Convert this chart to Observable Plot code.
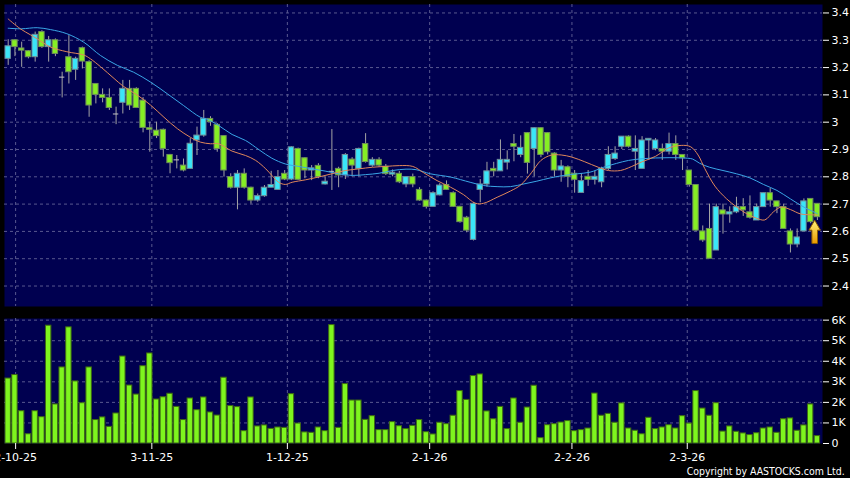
<!DOCTYPE html>
<html><head><meta charset="utf-8">
<script src="https://cdn.jsdelivr.net/npm/d3@7"></script>
<script src="https://cdn.jsdelivr.net/npm/@observablehq/plot@0.6"></script>
<style>
html,body{margin:0;padding:0;background:#000;}
#wrap{position:relative;width:850px;height:478px;background:#000;overflow:hidden;}
#price{position:absolute;left:0;top:0;}
#vol{position:absolute;left:0;top:310px;}
#copy{position:absolute;right:5px;top:465px;color:#fff;font:11px "DejaVu Sans Condensed","DejaVu Sans",sans-serif;line-height:13px;white-space:nowrap;transform-origin:right center;}
</style></head><body>
<svg width="0" height="0" style="position:absolute"><defs>
<linearGradient id="arrowGrad" x1="0" y1="0" x2="0" y2="1"><stop offset="0" stop-color="#fff27a"/><stop offset="1" stop-color="#eb9a00"/></linearGradient>
</defs></svg>
<div id="wrap"><div id="price"></div><div id="vol"></div><div id="copy">Copyright by AASTOCKS.com Ltd.</div></div>
<script>
// ---- axis ticks ----
const xTickPos = [1.1, 21.3, 41.4, 62.5, 83.6, 100.7];
const xTickLabels = ["2-10-25", "3-11-25", "1-12-25", "2-1-26", "2-2-26", "2-3-26"];
const priceTicks = [2.4, 2.5, 2.6, 2.7, 2.8, 2.9, 3.0, 3.1, 3.2, 3.3, 3.4];
const priceTickLabels = ["2.4", "2.5", "2.6", "2.7", "2.8", "2.9", "3", "3.1", "3.2", "3.3", "3.4"];
const volTicks = [0, 1, 2, 3, 4, 5, 6];
const volTickLabels = ["0", "1K", "2K", "3K", "4K", "5K", "6K"];

// ---- daily OHLC (121 sessions) ----
const opens = [3.232,3.300,3.270,3.260,3.238,3.330,3.275,3.300,3.165,3.238,3.192,3.271,3.220,3.140,3.100,3.089,3.030,3.071,3.122,3.122,
3.079,2.978,2.969,2.972,2.880,2.862,2.841,2.829,2.933,2.951,3.012,2.990,2.949,2.799,2.760,2.811,2.760,2.713,2.729,2.760,
2.752,2.811,2.790,2.902,2.868,2.823,2.840,2.772,2.820,2.829,2.805,2.863,2.829,2.920,2.841,2.862,2.837,2.808,2.811,2.772,
2.799,2.752,2.713,2.690,2.732,2.770,2.740,2.690,2.650,2.569,2.752,2.772,2.829,2.820,2.852,2.920,2.880,2.960,2.902,2.978,
2.960,2.885,2.823,2.835,2.811,2.741,2.800,2.789,2.780,2.829,2.865,2.910,2.947,2.892,2.829,2.933,2.902,2.902,2.892,2.920,
2.880,2.823,2.770,2.600,2.609,2.530,2.677,2.662,2.670,2.689,2.670,2.640,2.689,2.740,2.710,2.689,2.600,2.552,2.600,2.719,2.701];
const highs = [3.302,3.302,3.293,3.262,3.330,3.335,3.314,3.305,3.183,3.317,3.238,3.275,3.225,3.140,3.122,3.122,3.055,3.153,3.153,3.126,
3.090,3.000,3.000,2.975,2.882,2.878,2.865,2.940,2.982,3.043,3.020,2.995,2.950,2.811,2.823,2.829,2.762,2.737,2.768,2.820,
2.823,2.823,2.910,2.905,2.870,2.841,2.848,2.800,2.973,2.835,2.885,2.870,2.905,2.958,2.870,2.870,2.845,2.825,2.820,2.800,
2.810,2.760,2.715,2.745,2.775,2.785,2.745,2.692,2.655,2.705,2.790,2.853,2.853,2.935,2.895,2.955,2.950,2.962,2.980,2.980,
2.962,2.888,2.860,2.840,2.823,2.811,2.823,2.820,2.835,2.910,2.910,2.947,2.950,2.950,2.947,2.940,2.940,2.920,2.960,2.950,
2.880,2.823,2.770,2.620,2.700,2.700,2.700,2.690,2.725,2.720,2.730,2.700,2.740,2.757,2.710,2.700,2.609,2.609,2.719,2.719,2.701];
const lows = [3.208,3.240,3.201,3.232,3.220,3.270,3.220,3.240,3.089,3.140,3.153,3.195,3.018,3.067,3.071,3.043,2.991,3.030,3.043,3.050,
2.961,2.890,2.940,2.872,2.811,2.829,2.818,2.829,2.878,2.945,2.985,2.890,2.799,2.755,2.679,2.755,2.700,2.707,2.725,2.760,
2.752,2.786,2.786,2.787,2.793,2.786,2.793,2.770,2.750,2.760,2.790,2.800,2.800,2.850,2.835,2.835,2.805,2.800,2.775,2.760,
2.760,2.710,2.682,2.690,2.730,2.750,2.688,2.630,2.595,2.565,2.705,2.762,2.800,2.820,2.825,2.855,2.870,2.810,2.800,2.870,
2.880,2.799,2.780,2.760,2.740,2.741,2.765,2.770,2.760,2.823,2.860,2.900,2.905,2.823,2.829,2.860,2.895,2.860,2.880,2.860,
2.823,2.762,2.600,2.560,2.500,2.530,2.590,2.630,2.665,2.655,2.645,2.640,2.689,2.689,2.665,2.609,2.521,2.540,2.600,2.628,2.640];
const closes = [3.278,3.275,3.262,3.238,3.320,3.275,3.300,3.250,3.165,3.183,3.232,3.222,3.061,3.100,3.089,3.052,3.030,3.122,3.061,3.052,
2.979,2.972,2.949,2.902,2.850,2.862,2.823,2.921,2.951,3.012,3.000,2.902,2.823,2.760,2.811,2.760,2.713,2.729,2.760,2.770,
2.799,2.790,2.908,2.789,2.823,2.831,2.799,2.782,2.820,2.805,2.880,2.841,2.902,2.854,2.862,2.841,2.810,2.815,2.780,2.799,
2.772,2.713,2.690,2.740,2.768,2.752,2.690,2.634,2.603,2.701,2.772,2.820,2.820,2.862,2.862,2.910,2.906,2.851,2.978,2.880,
2.890,2.823,2.838,2.800,2.789,2.784,2.789,2.800,2.829,2.880,2.885,2.947,2.910,2.902,2.933,2.939,2.933,2.892,2.920,2.880,
2.868,2.770,2.603,2.567,2.500,2.689,2.662,2.670,2.689,2.677,2.650,2.689,2.740,2.713,2.689,2.609,2.552,2.578,2.710,2.634,2.652];
// ---- daily volume, thousands of shares ----
const volumes = [3.16,3.33,1.57,0.45,1.57,1.28,5.73,1.90,3.70,5.65,3.02,1.96,3.70,1.14,1.27,0.81,1.46,4.23,2.82,2.38,
3.76,4.38,2.14,2.25,2.42,1.78,1.14,2.19,1.62,2.24,1.51,1.36,3.20,1.82,1.77,0.60,2.24,0.83,0.88,0.71,
0.78,0.76,2.40,0.97,0.54,0.52,0.78,0.60,5.76,0.76,2.89,2.09,2.09,1.15,1.33,0.65,0.65,1.04,0.84,0.70,
0.86,1.14,0.55,0.44,1.01,0.94,1.35,2.55,2.12,3.28,3.36,1.56,1.18,1.78,0.70,2.19,1.01,1.75,2.81,0.26,
0.89,0.94,1.02,1.09,0.60,0.65,0.73,2.43,1.35,1.44,1.01,1.95,0.73,0.62,0.45,1.25,0.70,0.78,0.89,0.73,
1.33,0.97,2.55,1.70,1.35,1.96,0.58,0.83,0.57,0.49,0.41,0.50,0.73,0.78,0.52,1.18,1.22,0.62,0.88,1.90,0.36];

// ---- moving averages (session position, price) ----
const maLongPos = [0,2,4.3,6.3,8.7,11.2,13.7,16.2,18.6,21.1,23.6,26,28.5,29.5,31.2,33.2,35.2,37.2,39.1,41.1,43.1,45.1,47,49,51,53,55,57,59,60.5,
62.6,65.6,68.5,70.5,72.5,74.5,76.5,78.4,80.4,82.4,84.4,86.3,88.3,90.2,92,94,96,98,100,101.5,102.5,104,106,108,110,112,114,116,118,120];
const maLongVal = [3.344,3.342,3.346,3.339,3.324,3.293,3.244,3.208,3.183,3.147,3.104,3.061,3.018,3.011,2.988,2.955,2.933,2.899,2.868,2.847,2.838,2.829,2.821,2.811,2.805,2.808,2.813,2.823,2.828,2.826,
2.811,2.799,2.780,2.768,2.764,2.764,2.774,2.784,2.796,2.805,2.811,2.817,2.835,2.849,2.860,2.866,2.869,2.870,2.869,2.865,2.850,2.835,2.823,2.811,2.796,2.772,2.750,2.719,2.689,2.665];
const maShortPos = [0,1.8,3.3,4.3,6.3,8.7,11.2,12.2,13.7,15.7,17.1,19.1,21.1,23.1,25.1,27,28.5,30,31.2,33.2,35.2,36.7,38.2,39.1,40.1,41.1,42.1,44.1,46,48,50,52,54,56,58,60,
61.6,63.6,65.6,67.5,69.3,70.5,72.5,74.5,76,77.6,79,80.5,82,83.6,85.5,87.5,89,90.8,92,94,96,97.9,99.8,101.2,102.3,103.3,104.8,106.5,108,109.5,111,112.2,113.5,114.6,116,117.5,119,120];
const maShortVal = [3.378,3.342,3.320,3.305,3.275,3.258,3.246,3.232,3.203,3.160,3.131,3.100,3.063,3.018,2.976,2.945,2.927,2.921,2.921,2.894,2.878,2.860,2.829,2.805,2.780,2.772,2.780,2.789,2.799,2.811,2.823,2.829,2.835,2.838,2.841,2.838,
2.815,2.786,2.762,2.735,2.703,2.703,2.725,2.748,2.770,2.815,2.860,2.879,2.880,2.872,2.855,2.835,2.823,2.823,2.833,2.855,2.875,2.905,2.915,2.910,2.880,2.830,2.766,2.720,2.690,2.665,2.648,2.642,2.672,2.689,2.680,2.664,2.661,2.660];

// ---- signal arrow ----
const signalPos = [119.6];
const signalPrice = [2.557];

// ---- styling ----
const NAVY = "#000050", GRID = "#58588f", CYAN = "#3ae6f8", GREEN = "#86ee24";
const VOLFILL = "#7ef51e", VOLSTROKE = "#3e6a12";
const X = {type: "linear", domain: [0, 120], range: [7.7, 816.9], axis: null};
const baseStyle = {background: "transparent", color: "#fff", fontFamily: "DejaVu Sans", fontSize: "11px"};

const candles = opens.map((o, i) => ({i, o, h: highs[i], l: lows[i], c: closes[i]}));
const upC = candles.filter(d => d.c > d.o);
const downC = candles.filter(d => d.c < d.o);
const flatC = candles.filter(d => d.c === d.o);
const maLong = maLongPos.map((x, k) => ({x, y: maLongVal[k]}));
const maShort = maShortPos.map((x, k) => ({x, y: maShortVal[k]}));
const signal = signalPos.map((x, k) => ({x, y: signalPrice[k]}));
const vols = volumes.map((v, i) => ({i, v}));

const blockArrow = {
  draw(context, l) {
    const hw = 5.8, sw = 2.8, hh = 10;
    context.moveTo(-sw, 0);
    context.lineTo(-sw, -(l - hh));
    context.lineTo(-hw, -(l - hh));
    context.lineTo(0, -l);
    context.lineTo(hw, -(l - hh));
    context.lineTo(sw, -(l - hh));
    context.lineTo(sw, 0);
    context.closePath();
  }
};

const price = Plot.plot({
  width: 850, height: 308, marginTop: 4, marginBottom: 2, marginLeft: 4, marginRight: 28,
  style: baseStyle,
  x: X,
  y: {domain: [2.325, 3.431], axis: null},
  marks: [
    Plot.frame({fill: NAVY, stroke: "none"}),
    Plot.ruleY(priceTicks, {stroke: GRID, strokeDasharray: "3,3"}),
    Plot.ruleX(xTickPos, {stroke: GRID, strokeDasharray: "3,3"}),
    Plot.ruleX(candles, {x: "i", y1: "l", y2: "h", stroke: "#a4a4a4", strokeWidth: 1}),
    Plot.rect(upC, {x1: d => d.i - 0.4, x2: d => d.i + 0.4, y1: "o", y2: "c", fill: CYAN, stroke: "#6f8e98", strokeWidth: 1}),
    Plot.rect(downC, {x1: d => d.i - 0.4, x2: d => d.i + 0.4, y1: "o", y2: "c", fill: GREEN, stroke: "#6f8e5a", strokeWidth: 1}),
    Plot.ruleY(flatC, {x1: d => d.i - 0.4, x2: d => d.i + 0.4, y: "o", stroke: "#c4c4c4", strokeWidth: 1}),
    Plot.line(maLong, {x: "x", y: "y", stroke: "#3aa6e6", strokeWidth: 1, curve: "catmull-rom"}),
    Plot.line(maShort, {x: "x", y: "y", stroke: "#e0875a", strokeWidth: 1, curve: "catmull-rom"}),
    Plot.vector(signal, {x: "x", y: "y", length: 23, rotate: 0, anchor: "start", shape: blockArrow,
      fill: "url(#arrowGrad)", stroke: "#8a5a00", strokeWidth: 1}),
    Plot.axisY(priceTicks, {anchor: "right", tickSize: 6, tickPadding: 3, label: null,
      tickFormat: d => priceTickLabels[priceTicks.indexOf(d)]})
  ]
});
document.getElementById("price").append(price);

const vol = Plot.plot({
  width: 850, height: 168, marginTop: 8, marginBottom: 35, marginLeft: 4, marginRight: 28,
  style: baseStyle,
  x: X,
  y: {domain: [0, 6.08], axis: null},
  marks: [
    Plot.frame({fill: NAVY, stroke: "none"}),
    Plot.ruleY(volTicks.filter(d => d > 0), {stroke: GRID, strokeDasharray: "3,3"}),
    Plot.ruleX(xTickPos, {stroke: GRID, strokeDasharray: "3,3"}),
    Plot.rect(vols, {x1: d => d.i - 0.4, x2: d => d.i + 0.4, y1: 0, y2: "v", fill: VOLFILL, stroke: VOLSTROKE, strokeWidth: 1}),
    Plot.axisY(volTicks, {anchor: "right", tickSize: 6, tickPadding: 3, label: null,
      tickFormat: d => volTickLabels[volTicks.indexOf(d)]}),
    Plot.axisX(xTickPos, {anchor: "bottom", tickSize: 6, tickPadding: 4, label: null,
      tickFormat: d => xTickLabels[xTickPos.indexOf(d)]})
  ]
});
document.getElementById("vol").append(vol);

// fit the copyright line to its width in the reference
const cp = document.getElementById("copy");
const w = cp.getBoundingClientRect().width;
if (w > 0) cp.style.transform = `scaleX(${158 / w})`;
</script>
</body></html>
